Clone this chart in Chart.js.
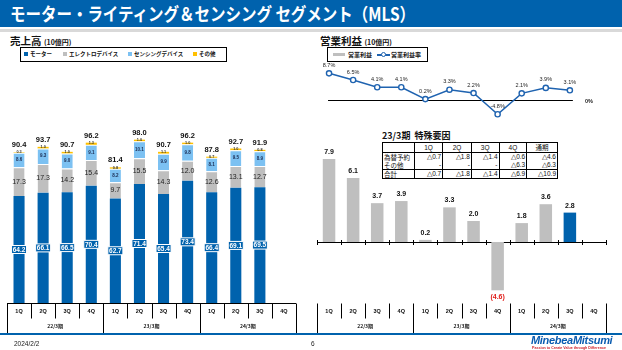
<!DOCTYPE html>
<html><head><meta charset="utf-8">
<script src="https://cdn.jsdelivr.net/npm/chart.js@4.4.1/dist/chart.umd.min.js"></script>
<style>
body{margin:0;width:622px;height:350px;overflow:hidden;background:#fff;font-family:"Noto Sans CJK JP","Liberation Sans",sans-serif;position:relative}
.abs{position:absolute}
#tbar{left:0;top:0;width:622px;height:27px;background:#0062ad}
#title{left:10px;top:1px;color:#fff;font-weight:bold;font-size:18px;white-space:nowrap;transform-origin:left center;line-height:25px}
#gray{left:0;top:29px;width:622px;height:3px;background:#d9d9d9}
.sub{font-weight:bold;font-size:10.5px;white-space:nowrap;line-height:12px;color:#111}
.sub small{font-size:7px}
.legend{border:1px solid #000;box-sizing:border-box}
.lg{position:absolute;font-size:5.5px;font-weight:bold;white-space:nowrap;line-height:7px;top:3px;color:#111}
.sw{position:absolute}
table{border-collapse:collapse;font-family:"Liberation Sans","Noto Sans CJK JP",sans-serif;font-size:6.5px;color:#111}
td{border:1px solid #000;padding:0 1px;height:8px;line-height:8px;white-space:nowrap}
td.n{text-align:right}
td.h{text-align:center}
tr.nb td{border-top:none}
tr.nt td{border-bottom:none}
canvas{position:absolute}
</style></head>
<body>
<div id="tbar" class="abs"></div>
<div id="title" class="abs">モーター・ライティング＆センシング セグメント（MLS）</div>
<div id="gray" class="abs"></div>

<div class="abs sub" style="left:10px;top:35px">売上高 <small>(10億円)</small></div>
<div class="abs legend" style="left:20px;top:47px;width:207px;height:15px">
  <div class="sw" style="left:3px;top:4px;width:4px;height:4px;background:#0062ad"></div><div class="lg" style="left:9px">モーター</div>
  <div class="sw" style="left:42px;top:4px;width:4px;height:4px;background:#bfbfbf"></div><div class="lg" style="left:48px">エレクトロデバイス</div>
  <div class="sw" style="left:107px;top:4px;width:4px;height:4px;background:#7cc1f2"></div><div class="lg" style="left:113px">センシングデバイス</div>
  <div class="sw" style="left:172px;top:4px;width:4px;height:4px;background:#ffc000"></div><div class="lg" style="left:178px">その他</div>
</div>

<div class="abs sub" style="left:320px;top:35px">営業利益 <small>(10億円)</small></div>
<div class="abs legend" style="left:327px;top:47px;width:101px;height:15px">
  <div class="sw" style="left:5px;top:5px;width:12px;height:3px;background:#bfbfbf"></div><div class="lg" style="left:20px;font-size:6px">営業利益</div>
  <div class="sw" style="left:49px;top:6px;width:13px;height:1.5px;background:#1f63b0"></div>
  <div class="sw" style="left:53px;top:4px;width:3px;height:3px;border:1.2px solid #1f63b0;border-radius:50%;background:#fff"></div>
  <div class="lg" style="left:63px;font-size:6px">営業利益率</div>
</div>

<div class="abs" style="left:382px;top:129px;font-weight:bold;font-size:9px;white-space:nowrap;color:#111">23/3期&nbsp;&nbsp;特殊要因</div>
<table class="abs" id="tbl" style="left:382px;top:142px;width:176px;border:1.5px solid #000"></table>

<canvas id="c1" width="310" height="285" style="left:0;top:50px"></canvas>
<canvas id="c2" width="312" height="285" style="left:310px;top:50px"></canvas>

<div class="abs" style="left:0;top:333px;width:622px;height:1.5px;background:#0062ad"></div>
<div class="abs" style="left:14px;top:340px;font-size:6.5px;font-family:'Liberation Sans';color:#222">2024/2/2</div>
<div class="abs" style="left:311px;top:340px;font-size:6.5px;font-family:'Liberation Sans';color:#222">6</div>
<div class="abs" style="left:531px;top:335px;font-size:11px;font-weight:bold;font-style:italic;font-family:'Liberation Sans';color:#0a5cb0;letter-spacing:-0.3px;line-height:11px">MinebeaMitsumi</div>
<div class="abs" style="left:532px;top:346px;font-size:3.6px;font-weight:bold;font-family:'Liberation Sans';color:#d0202a;white-space:nowrap;line-height:4px">Passion to Create Value through Difference</div>

<script>
// ---- data ----
const categories = ['1Q','2Q','3Q','4Q','1Q','2Q','3Q','4Q','1Q','2Q','3Q','4Q'];
const groups = ['22/3期','23/3期','24/3期'];
const motor   = [64.2,66.1,66.5,70.4,62.7,71.4,65.4,73.4,66.4,69.1,69.5,null];
const electro = [17.3,17.3,14.2,15.4,9.7,15.5,14.3,12.0,12.6,13.1,12.7,null];
const sensing = [8.6,9.3,9.0,9.1,8.2,10.1,9.9,9.8,8.1,9.5,8.9,null];
const other   = [0.3,1.0,1.0,1.3,0.8,1.0,1.1,1.0,0.7,1.0,0.8,null];
const totals  = [90.4,93.7,90.7,96.2,81.4,98.0,90.7,96.2,87.8,92.7,91.9,null];
const opProfit = [7.9,6.1,3.7,3.9,0.2,3.3,2.0,-4.6,1.8,3.6,2.8,null];
const opMargin = [8.7,6.5,4.1,4.1,0.2,3.3,2.2,-4.8,2.1,3.9,3.1,null];
const tableCols = ['','1Q','2Q','3Q','4Q','通期'];
const tableRows = [
  ['為替予約','△0.7','△1.8','△1.4','△0.6','△4.6'],
  ['その他','-','-','-','△6.3','△6.3'],
  ['合計','△0.7','△1.8','△1.4','△6.9','△10.9']
];

// ---- title fit ----
const t = document.getElementById('title');
t.style.transform = 'scaleX(' + (405 / t.scrollWidth) + ')';

// ---- table ----
(function(){
  const tb = document.getElementById('tbl');
  const widths = [31,29,29,28,28,31];
  let h = '<tr>' + tableCols.map((c,i)=>`<td class="h" style="width:${widths[i]-2}px;height:9px">${c}</td>`).join('') + '</tr>';
  tableRows.forEach((r,ri)=>{
    const cls = ri===0 ? 'nt' : (ri===1 ? 'nb' : '');
    h += `<tr class="${cls}">` + r.map((c,i)=>`<td class="${i===0?'':'n'}" style="font-family:${i===0?'Noto Sans CJK JP':'Liberation Sans'}">${c}</td>`).join('') + '</tr>';
  });
  tb.innerHTML = h;
})();

const FONT = '"Liberation Sans", Arial, sans-serif';
const JFONT = '"Noto Sans CJK JP", sans-serif';

function drawRows(chart, baseline){
  const {ctx, chartArea:a} = chart;
  const x = chart.scales.x;
  const n = categories.length, w = (a.right - a.left) / n;
  const y0 = Math.round(a.bottom) + 0.5;
  ctx.save();
  ctx.strokeStyle = '#000'; ctx.lineWidth = 1;
  ctx.beginPath();
  if (baseline){ ctx.moveTo(a.left, y0); ctx.lineTo(a.right, y0); }
  for (let i = 0; i <= n; i++){
    const xx = Math.round(a.left + i * w) + 0.5;
    const len = (i % 4 === 0) ? 30 : 15;
    ctx.moveTo(xx, y0); ctx.lineTo(xx, y0 + len);
  }
  ctx.stroke();
  ctx.fillStyle = '#111'; ctx.textAlign = 'center'; ctx.textBaseline = 'middle';
  ctx.font = 'bold 5.5px ' + FONT;
  categories.forEach((c,i)=> ctx.fillText(c, x.getPixelForValue(i), y0 + 7.5));
  ctx.font = 'bold 5px ' + JFONT;
  groups.forEach((g,gi)=> ctx.fillText(g, a.left + (gi*4 + 2) * w, y0 + 23));
  ctx.restore();
}

// ---- sales chart ----
const salesLabels = {
  id:'salesLabels',
  afterDatasetsDraw(chart){
    const ctx = chart.ctx;
    const m0 = chart.getDatasetMeta(0).data, m1 = chart.getDatasetMeta(1).data,
          m2 = chart.getDatasetMeta(2).data, m3 = chart.getDatasetMeta(3).data;
    ctx.save();
    ctx.textAlign = 'center'; ctx.textBaseline = 'middle';
    for (let i = 0; i < categories.length; i++){
      if (motor[i] == null) continue;
      let e = m0[i], cy = (e.y + e.base) / 2;
      ctx.fillStyle = '#0062ad'; ctx.strokeStyle = '#fff'; ctx.lineWidth = 1;
      ctx.fillRect(e.x - 7.5, cy - 4, 15, 8); ctx.strokeRect(e.x - 7.5, cy - 4, 15, 8);
      ctx.fillStyle = '#fff'; ctx.font = 'bold 6.5px ' + FONT;
      ctx.fillText(motor[i].toFixed(1), e.x, cy + 0.5);
      e = m1[i]; cy = (e.y + e.base) / 2;
      ctx.fillStyle = '#222'; ctx.font = '7px ' + FONT;
      ctx.fillText(electro[i].toFixed(1), e.x, cy);
      e = m2[i]; cy = (e.y + e.base) / 2;
      ctx.fillStyle = '#1a2a50'; ctx.font = 'bold 4.5px ' + FONT;
      ctx.fillText(sensing[i].toFixed(1), e.x, cy);
      e = m3[i]; cy = (e.y + e.base) / 2;
      ctx.fillStyle = '#333'; ctx.font = 'bold 3.8px ' + FONT;
      ctx.fillText(other[i].toFixed(1), e.x, cy - 0.5);
      ctx.fillStyle = '#111'; ctx.font = 'bold 7.5px ' + FONT;
      ctx.fillText(totals[i].toFixed(1), e.x, e.y - 7);
    }
    ctx.restore();
    drawRows(chart, true);
  }
};

const segBorder = {top:1, right:0, bottom:0, left:0};
new Chart(document.getElementById('c1'), {
  type:'bar',
  data:{ labels:categories, datasets:[
    {label:'モーター', data:motor, backgroundColor:'#0062ad', borderWidth:0},
    {label:'エレクトロデバイス', data:electro, backgroundColor:'#bfbfbf', borderColor:'#fff', borderWidth:segBorder, borderSkipped:false},
    {label:'センシングデバイス', data:sensing, backgroundColor:'#7cc1f2', borderColor:'#fff', borderWidth:segBorder, borderSkipped:false},
    {label:'その他', data:other, backgroundColor:'#ffc000', borderWidth:0}
  ]},
  options:{
    responsive:false, animation:false, events:[],
    layout:{padding:{left:7, right:14, top:10, bottom:32}},
    datasets:{bar:{barPercentage:0.46, categoryPercentage:1}},
    plugins:{legend:{display:false}, tooltip:{enabled:false}},
    scales:{
      x:{stacked:true, display:false},
      y:{stacked:true, display:false, min:0, max:145.8}
    }
  },
  plugins:[salesLabels]
});

// ---- operating profit chart ----
const opPlugin = {
  id:'opPlugin',
  beforeDatasetsDraw(chart){
    const {ctx, chartArea:a} = chart;
    const x = chart.scales.x, y = chart.scales.y, y2 = chart.scales.y2;
    const n = categories.length, w = (a.right - a.left) / n;
    ctx.save();
    ctx.strokeStyle = '#000'; ctx.lineWidth = 1;
    const yz = Math.round(y.getPixelForValue(0)) + 0.5;
    ctx.beginPath();
    ctx.moveTo(a.left, yz); ctx.lineTo(a.right, yz);
    for (let i = 0; i <= n; i++){
      const xx = Math.round(a.left + i * w) + 0.5;
      ctx.moveTo(xx, yz - 2.5); ctx.lineTo(xx, yz + 2.5);
    }
    ctx.stroke();
    let last = 0; opMargin.forEach((v,i)=>{ if (v != null) last = i; });
    const y2z = Math.round(y2.getPixelForValue(0)) + 0.5;
    ctx.lineWidth = 1.2;
    ctx.beginPath();
    ctx.moveTo(x.getPixelForValue(0) - 1, y2z); ctx.lineTo(x.getPixelForValue(last) + 3, y2z);
    ctx.stroke();
    ctx.fillStyle = '#222'; ctx.font = 'bold 5.5px ' + FONT; ctx.textAlign = 'left'; ctx.textBaseline = 'middle';
    ctx.fillText('0%', x.getPixelForValue(last) + 15, y2z + 1);
    ctx.restore();
  },
  afterDatasetsDraw(chart){
    const ctx = chart.ctx;
    const mb = chart.getDatasetMeta(0).data, ml = chart.getDatasetMeta(1).data;
    ctx.save(); ctx.textAlign = 'center'; ctx.textBaseline = 'middle';
    for (let i = 0; i < categories.length; i++){
      if (opProfit[i] != null){
        const e = mb[i];
        ctx.font = 'bold 7px ' + FONT;
        if (opProfit[i] >= 0){
          ctx.fillStyle = '#111';
          ctx.fillText(opProfit[i].toFixed(1), e.x, e.y - 7);
        } else {
          ctx.fillStyle = '#e0201c';
          ctx.fillText('(' + Math.abs(opProfit[i]).toFixed(1) + ')', e.x, e.y + 7);
        }
      }
      if (opMargin[i] != null){
        const p = ml[i];
        ctx.fillStyle = '#222'; ctx.font = '5.5px ' + FONT;
        ctx.fillText(opMargin[i].toFixed(1) + '%', p.x, p.y - 8);
      }
    }
    ctx.restore();
    drawRows(chart, false);
  }
};

new Chart(document.getElementById('c2'), {
  type:'bar',
  data:{ labels:categories, datasets:[
    {type:'bar', label:'営業利益', data:opProfit, yAxisID:'y', order:2,
     backgroundColor: opProfit.map((v,i)=> i === 10 ? '#0062ad' : '#bfbfbf'), borderWidth:0,
     barPercentage:0.52, categoryPercentage:1},
    {type:'line', label:'営業利益率', data:opMargin, yAxisID:'y2', order:1,
     borderColor:'#1f63b0', borderWidth:1.5, backgroundColor:'#fff',
     pointRadius:2.6, pointBorderWidth:1.4, pointBackgroundColor:'#fff', pointBorderColor:'#1f63b0',
     tension:0, spanGaps:false, clip:false}
  ]},
  options:{
    responsive:false, animation:false, events:[],
    layout:{padding:{left:7, right:16, top:13, bottom:32}},
    plugins:{legend:{display:false}, tooltip:{enabled:false}},
    scales:{
      x:{display:false, offset:true},
      y:{display:false, min:-5.81, max:17.05},
      y2:{display:false, min:-67.1, max:12.11, position:'right'}
    }
  },
  plugins:[opPlugin]
});
</script>
</body></html>
